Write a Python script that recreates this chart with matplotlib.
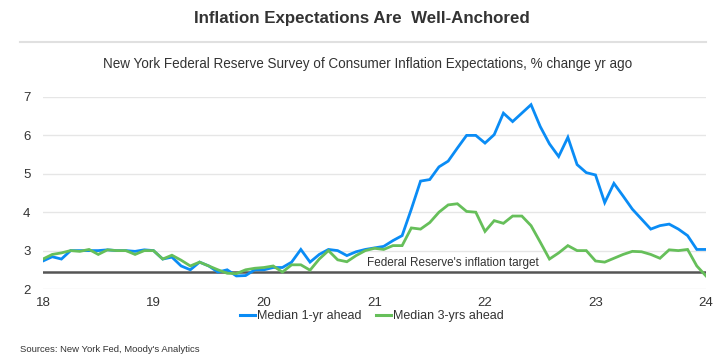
import numpy as np
import matplotlib.pyplot as plt
from matplotlib.lines import Line2D

# monthly, Jan 2018 - Jan 2024
months = np.arange(73)
one_yr = [2.73, 2.84, 2.78, 3.0, 3.0, 3.0, 3.0, 3.02, 3.0, 3.0, 2.98, 3.02,
          3.0, 2.78, 2.83, 2.6, 2.5, 2.7, 2.6, 2.44, 2.5, 2.34, 2.35, 2.5,
          2.5, 2.56, 2.56, 2.7, 3.03, 2.7, 2.9, 3.03, 3.0, 2.87, 2.97, 3.03,
          3.07, 3.11, 3.26, 3.39, 4.08, 4.81, 4.85, 5.18, 5.33, 5.67, 6.0, 6.0,
          5.8, 6.02, 6.58, 6.36, 6.58, 6.8, 6.23, 5.78, 5.45, 5.95, 5.24, 5.03,
          4.97, 4.25, 4.75, 4.42, 4.08, 3.82, 3.56, 3.65, 3.69, 3.56, 3.39, 3.03,
          3.03]
three_yr = [2.78, 2.9, 2.94, 3.0, 2.98, 3.03, 2.9, 3.02, 3.0, 3.0, 2.9, 3.0,
            3.0, 2.78, 2.88, 2.75, 2.6, 2.7, 2.6, 2.5, 2.41, 2.4, 2.5, 2.54,
            2.56, 2.6, 2.44, 2.63, 2.63, 2.49, 2.78, 3.0, 2.76, 2.71, 2.87, 3.0,
            3.06, 3.03, 3.13, 3.13, 3.59, 3.56, 3.73, 4.0, 4.19, 4.22, 4.02, 4.0,
            3.5, 3.78, 3.71, 3.9, 3.9, 3.65, 3.22, 2.78, 2.94, 3.13, 3.0, 3.0,
            2.73, 2.7, 2.8, 2.9, 2.98, 2.97, 2.9, 2.8, 3.02, 3.0, 3.03, 2.6,
            2.34]
target = 2.45
x = 18 + months / 12

fig = plt.figure(figsize=(7.24, 3.58), dpi=100)
plt.rcParams['font.family'] = ['Liberation Sans', 'DejaVu Sans']

ax = fig.add_axes([43 / 724, 69 / 358, 663 / 724, 192 / 358])
ax.plot(x, one_yr, color='#0a8cf5', lw=2, solid_joinstyle='miter')
ax.plot(x, three_yr, color='#66bf5a', lw=2, solid_joinstyle='miter')
ax.axhline(target, color='#555555', lw=1.8, zorder=1)
ax.text(21.71, target + 0.07, "Federal Reserve's inflation target",
        fontsize=8.5, color='#333333', va='bottom', ha='center')

ax.set_xlim(18, 24)
ax.set_ylim(2, 7)
ax.set_xticks(range(18, 25))
ax.set_yticks(range(2, 8))
ax.grid(axis='y', color='#e6e6e6', lw=1)
ax.set_axisbelow(True)
for s in ax.spines.values():
    s.set_visible(False)
ax.tick_params(length=0, labelsize=9.5, colors='#333333', pad=6)
ax.tick_params(axis='y', pad=9)

handles = [Line2D([0], [0], color='#0a8cf5', lw=2.2),
           Line2D([0], [0], color='#66bf5a', lw=2.2)]
fig.legend(handles, ['Median 1-yr ahead', 'Median 3-yrs ahead'],
           loc='center', bbox_to_anchor=(372 / 724, 1 - 316 / 358), ncol=2,
           frameon=False, fontsize=9, handlelength=1.2, handletextpad=0.15,
           columnspacing=1.2, labelcolor='#333333')

fig.text(362 / 724, 1 - 18 / 358, 'Inflation Expectations Are  Well-Anchored',
         ha='center', va='center', fontsize=12.2, fontweight='bold', color='#333333')
fig.add_artist(Line2D([20 / 724, 706 / 724], [1 - 42 / 358, 1 - 42 / 358],
                      color='#e0e0e0', lw=1.5))
fig.text(368 / 724, 1 - 64 / 358,
         'New York Federal Reserve Survey of Consumer Inflation Expectations, % change yr ago',
         ha='center', va='center', fontsize=9.75, color='#333333')
fig.text(20 / 724, 1 - 350 / 358, "Sources: New York Fed, Moody's Analytics",
         ha='left', va='center', fontsize=6.8, color='#333333')

fig.savefig('out.png', dpi=100, facecolor='white')
